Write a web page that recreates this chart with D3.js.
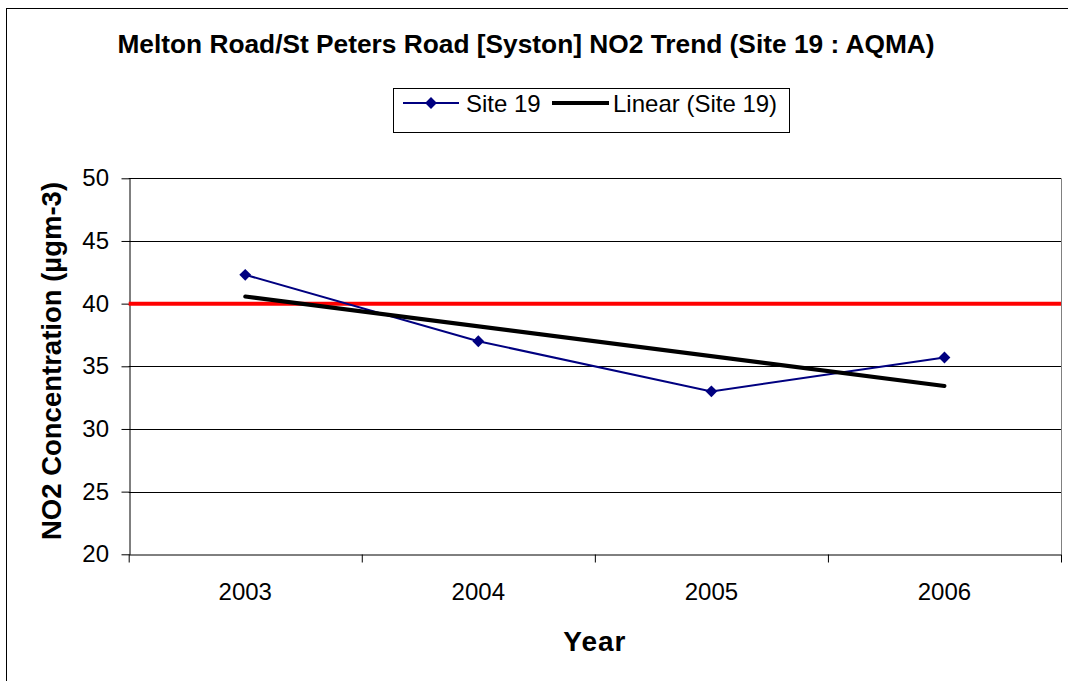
<!DOCTYPE html>
<html>
<head>
<meta charset="utf-8">
<script src="https://cdn.jsdelivr.net/npm/d3@7"></script>
<style>
  body { margin: 0; background: #fff; }
  svg { display: block; font-family: "Liberation Sans", Arial, sans-serif; }
</style>
</head>
<body>
<svg></svg>
<script>
var width = 1068;
var height = 681;

// data
var years = ["2003", "2004", "2005", "2006"];
var site19 = [42.3, 37.0, 33.0, 35.7];
var yTicks = [20, 25, 30, 35, 40, 45, 50];
var limitValue = 40;

var plotLeft = 128.7, plotRight = 1061, plotTop = 178.3, plotBottom = 554.3;

var svg = d3.select("svg")
  .attr("width", width)
  .attr("height", height);

// chart area border (runs off the right/bottom edge)
svg.append("rect")
  .attr("x", 6.5).attr("y", 8.5)
  .attr("width", 1100).attr("height", 700)
  .attr("fill", "#fff")
  .attr("stroke", "#000")
  .attr("stroke-width", 1);

var xIdx = d3.scaleLinear().domain([0, years.length]).range([plotLeft, plotRight]);
var y = d3.scaleLinear().domain([20, 50]).range([plotBottom, plotTop]);

// gridlines
svg.append("g")
  .selectAll("line")
  .data(yTicks.slice(1))
  .join("line")
  .attr("x1", plotLeft).attr("x2", plotRight)
  .attr("y1", d => Math.round(y(d)) + 0.5)
  .attr("y2", d => Math.round(y(d)) + 0.5)
  .attr("stroke", "#000")
  .attr("stroke-width", 1);

// right side of plot area
svg.append("line")
  .attr("x1", Math.round(plotRight) + 0.5).attr("x2", Math.round(plotRight) + 0.5)
  .attr("y1", plotTop).attr("y2", plotBottom)
  .attr("stroke", "#808080");

// y axis
var yAxis = svg.append("g")
  .attr("transform", "translate(" + (Math.round(plotLeft) + 0.5) + ",0)")
  .call(d3.axisLeft(y).tickValues(yTicks).tickSize(8).tickPadding(12.5).tickSizeOuter(0));
yAxis.select(".domain").attr("stroke", "#000");
yAxis.selectAll(".tick line").attr("stroke", "#000");
yAxis.selectAll("text")
  .attr("font-size", 24)
  .attr("font-family", "Liberation Sans, Arial, sans-serif")
  .attr("fill", "#000");

// x axis: boundary ticks
var xAxis = svg.append("g")
  .attr("transform", "translate(0," + (Math.round(plotBottom) + 0.5) + ")")
  .call(d3.axisBottom(xIdx).tickValues(d3.range(years.length + 1)).tickSize(8).tickFormat("").tickSizeOuter(0));
xAxis.select(".domain").attr("stroke", "#000");
xAxis.selectAll(".tick line").attr("stroke", "#000");

// x labels
svg.append("g")
  .selectAll("text")
  .data(years)
  .join("text")
  .attr("x", (d, i) => xIdx(i + 0.5))
  .attr("y", 600)
  .attr("text-anchor", "middle")
  .attr("font-size", 24)
  .text(d => d);

// limit line at 40
svg.append("line")
  .attr("x1", plotLeft).attr("x2", plotRight)
  .attr("y1", y(limitValue)).attr("y2", y(limitValue))
  .attr("stroke", "#ff0000")
  .attr("stroke-width", 4);

// linear trend (least squares, like the spreadsheet trendline)
var n = site19.length;
var xs = d3.range(n);
var mx = d3.mean(xs), my = d3.mean(site19);
var slope = d3.sum(xs, (d, i) => (d - mx) * (site19[i] - my)) / d3.sum(xs, d => (d - mx) * (d - mx));
var icpt = my - slope * mx;

var line = d3.line()
  .x((d, i) => xIdx(i + 0.5))
  .y(d => y(d));

svg.append("path")
  .datum(site19)
  .attr("d", line)
  .attr("fill", "none")
  .attr("stroke", "#000080")
  .attr("stroke-width", 2);

svg.append("line")
  .attr("x1", xIdx(0.5)).attr("x2", xIdx(n - 0.5))
  .attr("y1", y(icpt)).attr("y2", y(icpt + slope * (n - 1)))
  .attr("stroke", "#000")
  .attr("stroke-width", 4)
  .attr("stroke-linecap", "round");

var diamond = d3.symbol().type(d3.symbolSquare).size(70);

svg.append("g")
  .selectAll("path")
  .data(site19)
  .join("path")
  .attr("d", diamond)
  .attr("transform", (d, i) => "translate(" + xIdx(i + 0.5) + "," + y(d) + ") rotate(45)")
  .attr("fill", "#000080");

// title
svg.append("text")
  .attr("x", 526)
  .attr("y", 53)
  .attr("text-anchor", "middle")
  .attr("font-size", 26.3)
  .attr("font-weight", "bold")
  .text("Melton Road/St Peters Road [Syston] NO2 Trend (Site 19 : AQMA)");

// axis titles
svg.append("text")
  .attr("transform", "translate(61,361) rotate(-90)")
  .attr("text-anchor", "middle")
  .attr("font-size", 27.5)
  .attr("font-weight", "bold")
  .text("NO2 Concentration (\u00b5gm-3)");

svg.append("text")
  .attr("x", (plotLeft + plotRight) / 2)
  .attr("y", 651)
  .attr("text-anchor", "middle")
  .attr("font-size", 28)
  .attr("font-weight", "bold")
  .attr("letter-spacing", 1)
  .text("Year");

// legend
var legend = svg.append("g");
legend.append("rect")
  .attr("x", 393.5).attr("y", 88.5)
  .attr("width", 396).attr("height", 44)
  .attr("fill", "#fff")
  .attr("stroke", "#000");

legend.append("line")
  .attr("x1", 403).attr("x2", 459)
  .attr("y1", 103).attr("y2", 103)
  .attr("stroke", "#000080").attr("stroke-width", 2);
legend.append("path")
  .attr("d", diamond)
  .attr("transform", "translate(431,103) rotate(45)")
  .attr("fill", "#000080");
legend.append("text")
  .attr("x", 466).attr("y", 112)
  .attr("font-size", 24)
  .text("Site 19");

legend.append("line")
  .attr("x1", 552).attr("x2", 609)
  .attr("y1", 103).attr("y2", 103)
  .attr("stroke", "#000").attr("stroke-width", 4);
legend.append("text")
  .attr("x", 613).attr("y", 112)
  .attr("font-size", 24)
  .text("Linear (Site 19)");
</script>
</body>
</html>
